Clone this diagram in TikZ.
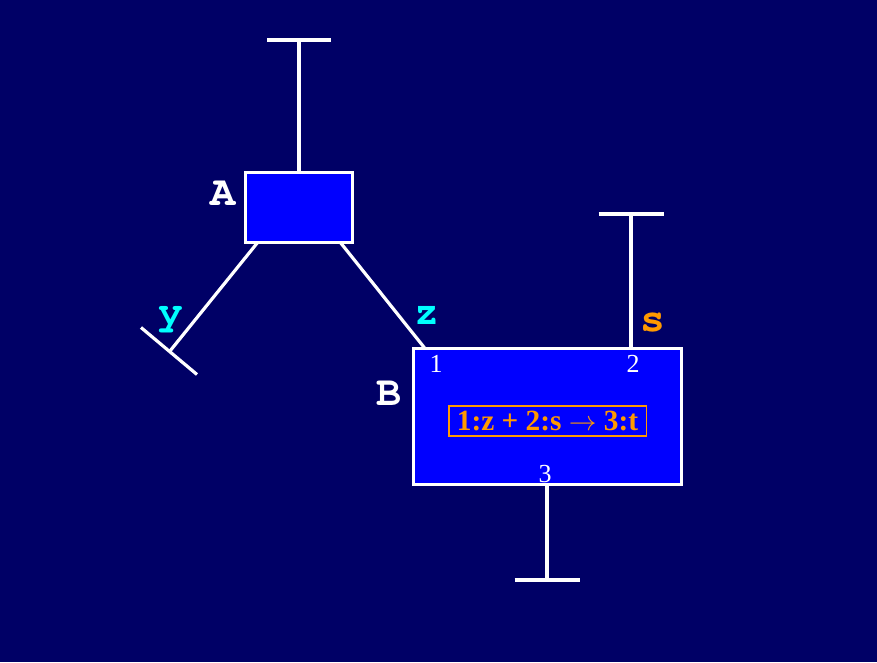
\documentclass[tikz,border=0pt]{standalone}
\usepackage{fontspec}
\setmainfont{Liberation Serif}
\newfontfamily\courb{TeX Gyre Cursor}
\usetikzlibrary{calc}
\definecolor{bgnavy}{RGB}{0,0,102}
\definecolor{boxblue}{RGB}{0,0,255}
\definecolor{ornge}{RGB}{255,153,0}
\definecolor{cyn}{RGB}{0,255,255}
\tikzset{
  wire/.style={draw=white, line width=2.4pt},
  cmpbox/.style={draw=white, fill=boxblue, line width=2.4pt, inner sep=0pt, outer sep=0pt},
  namelbl/.style={text=white, font=\courb\bfseries\fontsize{31.5}{31.5}\selectfont, anchor=base, inner sep=0pt},
  varlbl/.style={font=\courb\bfseries\fontsize{31}{31}\selectfont, anchor=base, inner sep=0pt},
  portlbl/.style={text=white, font=\fontsize{19.5}{20}\selectfont, anchor=base, inner sep=0pt},
  rulebox/.style={draw=ornge, line width=1pt, text=ornge, font=\bfseries\fontsize{22}{22}\selectfont, inner sep=0pt, minimum width=148pt, minimum height=22.5pt}
}
\begin{document}
\begin{tikzpicture}[x=0.75pt,y=-0.75pt]
\useasboundingbox (0,0) rectangle (877,662);
\fill[bgnavy] (0,0) rectangle (877,662);

% components
\node[cmpbox, minimum width=80.5pt, minimum height=53pt] (A) at (299,207.5) {};
\node[cmpbox, minimum width=201pt, minimum height=102pt] (B) at (547.5,416.5) {};

% terminal coordinates
\coordinate (tA) at (299,40);
\coordinate (tY) at (170,351);
\coordinate (tS) at (631,214);
\coordinate (tT) at (547,580);

% connector end points on box borders
\coordinate (aSW) at ($(A.south west)+(12,0)$);
\coordinate (aSE) at ($(A.south east)+(-12,0)$);
\coordinate (b1) at ($(B.north west)+(11.5,0)$);
\coordinate (b2) at ($(B.north west)+(217.5,0)$);
\coordinate (b3) at ($(B.south west)+(133.5,0)$);

% wires
\draw[wire] (A.north) -- (tA);
\draw[wire] ($(tA)+(-32,0)$) -- ($(tA)+(32,0)$);
\draw[wire] (aSW) -- (tY);
\draw[wire] ($(tY)+(-29,-23.5)$) -- ($(tY)+(27,23.5)$);
\draw[wire] (aSE) -- (b1);
\draw[wire] (b2) -- (tS);
\draw[wire] ($(tS)+(-32.5,0)$) -- ($(tS)+(32.5,0)$);
\draw[wire] (b3) -- (tT);
\draw[wire] ($(tT)+(-32.5,0)$) -- ($(tT)+(32.5,0)$);

% redraw boxes on top of wires
\node[cmpbox, minimum width=80.5pt, minimum height=53pt] at (A) {};
\node[cmpbox, minimum width=201pt, minimum height=102pt] at (B) {};

% labels
\node[namelbl] (lA) at (223,205.5) {A};
\node[namelbl] (lB) at (389,405) {B};
\node[varlbl, text=cyn] (ly) at (171,324) {y};
\node[varlbl, text=cyn] (lz) at (426.5,324) {z};
\node[varlbl, text=ornge] (ls) at (653,331) {s};

\node[portlbl] (n1) at (436,372) {1};
\node[portlbl] (n2) at (633,372) {2};
\node[portlbl] (n3) at (545,482) {3};

\node[rulebox] (rule) at (547.5,421) {1:z + 2:s $\rightarrow$ 3:t};
\end{tikzpicture}
\end{document}
